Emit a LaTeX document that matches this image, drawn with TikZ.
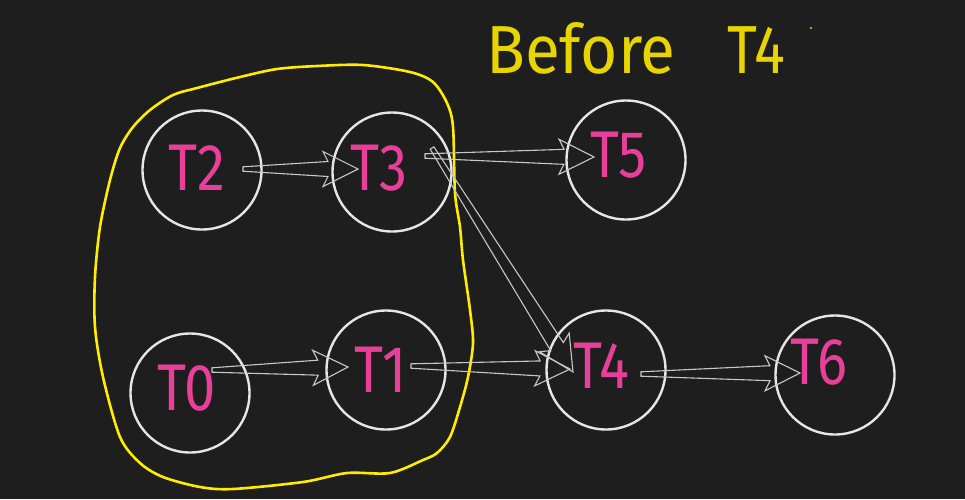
\documentclass[tikz,border=0pt]{standalone}
\usepackage{fontspec}
\newfontfamily\hand{Fira Sans}
\usetikzlibrary{calc}
\definecolor{bg}{HTML}{1E1E1E}
\definecolor{ring}{HTML}{E6E6E6}
\definecolor{arrowc}{HTML}{C8C8C8}
\definecolor{pinkc}{HTML}{E8409A}
\definecolor{loopc}{HTML}{FFEC00}
\definecolor{titlec}{HTML}{E8D400}
\tikzset{
  task/.style={circle, draw=ring, line width=2.4pt, minimum size=119pt, inner sep=0pt},
  tlabel/.style={text=pinkc, font=\hand\fontsize{66}{66}\selectfont, inner sep=0pt, anchor=base west},
  hollow/.style={draw=arrowc, line width=1.1pt, line join=miter},
  grouploop/.style={draw=loopc, line width=2.6pt},
}
\newcommand\hollowarrow[2]{%
  \draw[hollow] ($(#1)!2.2pt!90:(#2)$) -- ($(#2)!30pt!(#1)!7.5pt!90:(#2)$)
    -- ($(#2)!35pt!(#1)!17.5pt!90:(#2)$) -- (#2)
    -- ($(#2)!35pt!(#1)!17.5pt!-90:(#2)$) -- ($(#2)!30pt!(#1)!7.5pt!-90:(#2)$)
    -- ($(#1)!2.2pt!-90:(#2)$) -- cycle;}
\begin{document}
\begin{tikzpicture}[x=1pt,y=-1pt]
\fill[bg] (0,0) rectangle (965,499);
\useasboundingbox (0,0) rectangle (965,499);

% group loop
\draw[grouploop] plot[smooth cycle, tension=0.5] coordinates {
 (317,66) (363,65) (410,72) (433,82) (447,103) (453,127) (455,193) (460,227)
 (463,260) (470,310) (473,343) (468,377) (460,407) (450,437) (437,453) (423,460)
 (390,473) (347,473) (303,482) (233,489) (200,487) (163,477) (140,463) (120,437)
 (103,377) (95,327) (95,277) (100,227) (110,180) (120,148) (133,127) (150,110)
 (173,95) (197,88) (240,77) (277,69)};

% task circles
\node[task] (T2) at (202,170) {};
\node[task] (T3) at (392,172) {};
\node[task] (T5) at (626,160) {};
\node[task] (T0) at (190,393) {};
\node[task] (T1) at (386,370) {};
\node[task] (T4) at (606,370) {};
\node[task] (T6) at (835,375) {};

% labels
\node[tlabel] (L2) at (168,190) {\scalebox{0.85}[1]{T2}};
\node[tlabel] (L3) at (350,190) {\scalebox{0.85}[1]{T3}};
\node[tlabel] (L5) at (590,177) {\scalebox{0.85}[1]{T5}};
\node[tlabel] (L0) at (157,410) {\scalebox{0.85}[1]{T0}};
\node[tlabel] (L1) at (354,392) {\scalebox{0.85}[1]{T1}};
\node[tlabel] (L4) at (573,388) {\scalebox{0.85}[1]{T4}};
\node[tlabel] (L6) at (790,384) {\scalebox{0.85}[1]{T6}};

% arrow end points
\coordinate (s23) at ($(T2)+(41,-1)$);  \coordinate (e23) at ($(T3)+(-34,-3)$);
\coordinate (s35) at ($(T3)+(33,-16)$); \coordinate (e35) at ($(T5)+(-32,-3)$);
\coordinate (s34) at ($(T3)+(40,-24)$); \coordinate (e34) at ($(T4)+(-33,2)$);
\coordinate (s01) at ($(T0)+(22,-23)$); \coordinate (e01) at ($(T1)+(-38,-3)$);
\coordinate (s14) at ($(T1)+(25,-4)$);  \coordinate (e14) at ($(T4)+(-36,-1)$);
\coordinate (s46) at ($(T4)+(35,4)$);   \coordinate (e46) at ($(T6)+(-35,-2)$);

\hollowarrow{s23}{e23}
\hollowarrow{s35}{e35}
\hollowarrow{s34}{e34}
\hollowarrow{s01}{e01}
\hollowarrow{s14}{e14}
\hollowarrow{s46}{e46}

% title
\node[text=titlec, font=\hand\fontsize{68}{68}\selectfont, inner sep=0pt, anchor=base west] (title) at (486,73)
  {\scalebox{0.94}[1]{Before}\hspace{52pt}\scalebox{0.85}[1]{T4}};
\fill[titlec] (811,28) circle (1.2);
\end{tikzpicture}
\end{document}
